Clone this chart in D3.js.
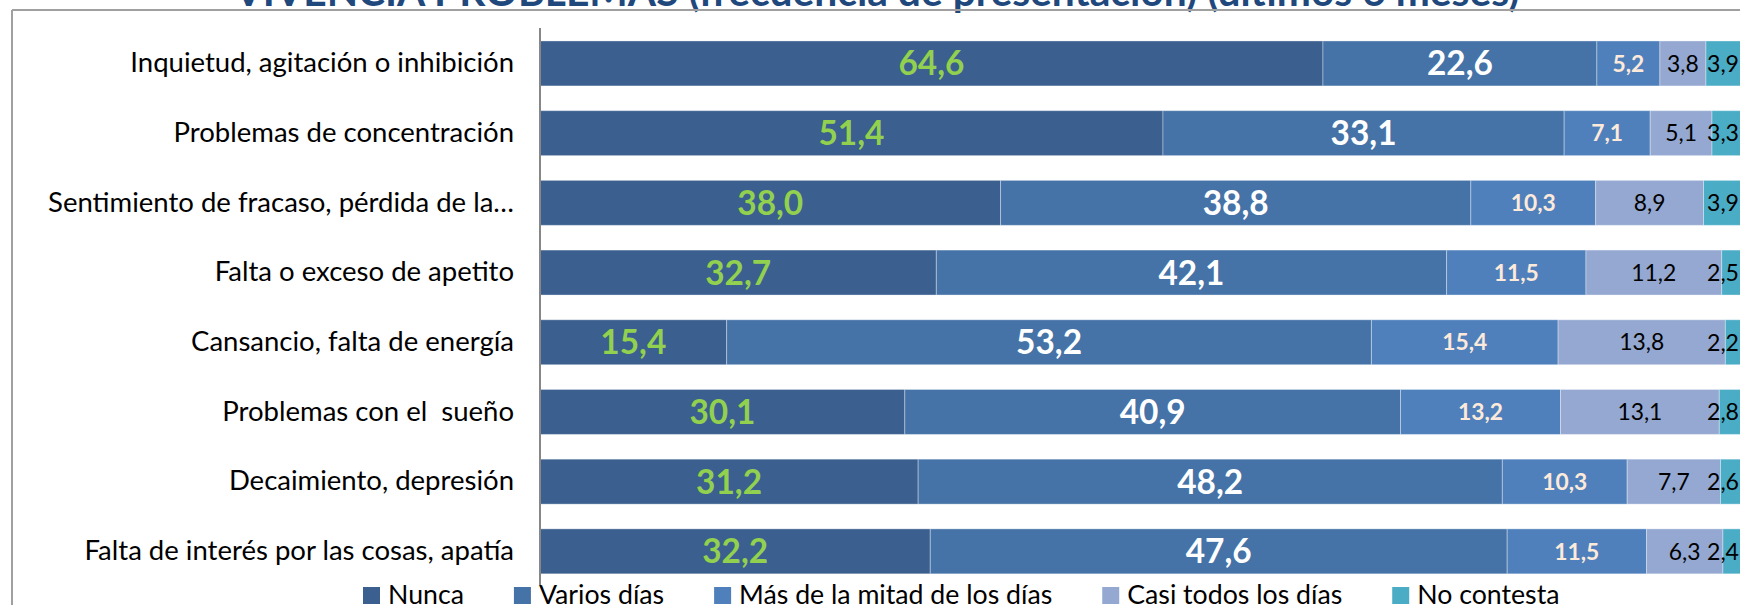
<!DOCTYPE html>
<html>
<head>
<meta charset="utf-8">
<script src="https://cdn.jsdelivr.net/npm/d3@7"></script>
<style>
  html, body { margin: 0; padding: 0; background: #ffffff; overflow: hidden; }
  svg { display: block; }
</style>
</head>
<body>
<svg id="chart" width="1740" height="605"></svg>
<script>
// ---------------- DATA ----------------
const titleText = "VIVENCIA PROBLEMAS (frecuencia de presentación) (últimos 6 meses)";
const categories = [
  "Inquietud, agitación o inhibición",
  "Problemas de concentración",
  "Sentimiento de fracaso, pérdida de la…",
  "Falta o exceso de apetito",
  "Cansancio, falta de energía",
  "Problemas con el  sueño",
  "Decaimiento, depresión",
  "Falta de interés por las cosas, apatía"
];
const seriesNames = ["Nunca", "Varios días", "Más de la mitad de los días", "Casi todos los días", "No contesta"];
const nunca      = [64.6, 51.4, 38.0, 32.7, 15.4, 30.1, 31.2, 32.2];
const varios     = [22.6, 33.1, 38.8, 42.1, 53.2, 40.9, 48.2, 47.6];
const masMitad   = [5.2, 7.1, 10.3, 11.5, 15.4, 13.2, 10.3, 11.5];
const casiTodos  = [3.8, 5.1, 8.9, 11.2, 13.8, 13.1, 7.7, 6.3];
const noContesta = [3.9, 3.3, 3.9, 2.5, 2.2, 2.8, 2.6, 2.4];
const xDomain = [0, 100];

// ---------------- STYLE ----------------
const W = 1740, H = 605;
const FONT = "Lato, 'Open Sans', sans-serif";
const colors = ["#3B5F8E", "#4573A7", "#4F80BC", "#94A8D1", "#4BACC6"];
const labelColors = ["#92D050", "#FFFFFF", "#FDEADA", "#000000", "#000000"];
const labelWeights = ["bold", "bold", "bold", "normal", "normal"];

const svg = d3.select("#chart");

// measure helper to fit font sizes to the reference widths
const meas = svg.append("text").attr("x", -9999).attr("y", -9999).style("font-family", FONT).style("white-space", "pre");
function fitSize(str, weight, target) {
  meas.style("font-weight", weight).style("font-size", "100px").text(str);
  const w = meas.node().getComputedTextLength();
  return 100 * target / w;
}
const titleSize  = fitSize(titleText, "bold", 1285);
const catSize    = fitSize(categories[0], "normal", 384);
const legendSize = fitSize(seriesNames[3], "normal", 215);
const bigSize    = fitSize("64,6", "bold", 66);
const masSize    = fitSize("10,3", "bold", 45);
const casiSize   = fitSize("11,2", "normal", 45);
const ncSize     = fitSize("3,9", "normal", 32);
const valueSizes = [bigSize, bigSize, masSize, casiSize, ncSize];
meas.remove();

const locale = d3.formatLocale({decimal: ",", thousands: ".", grouping: [3], currency: ["", "€"]});
const fmt = locale.format(".1f");

// ---------------- SCALES ----------------
const x = d3.scaleLinear().domain(xDomain).range([540, 1752]);
const y = d3.scaleBand().domain(categories).range([28.6, 586.2]).paddingInner(0.355).paddingOuter(0.1775);

// ---------------- FRAME ----------------
svg.append("text")
  .attr("x", 877).attr("y", 6)
  .attr("text-anchor", "middle")
  .style("font-family", FONT).style("font-weight", "bold")
  .style("font-size", titleSize + "px")
  .attr("fill", "#1F497D")
  .text(titleText);

svg.append("line").attr("x1", 12).attr("x2", W).attr("y1", 10).attr("y2", 10)
  .attr("stroke", "#A0A0A0").attr("stroke-width", 2);
svg.append("line").attr("x1", 12).attr("x2", 12).attr("y1", 10).attr("y2", H)
  .attr("stroke", "#A0A0A0").attr("stroke-width", 2);

// ---------------- BARS ----------------
const rows = categories.map((c, i) => ({
  cat: c,
  s0: nunca[i], s1: varios[i], s2: masMitad[i], s3: casiTodos[i], s4: noContesta[i]
}));
const keys = ["s0", "s1", "s2", "s3", "s4"];
const stacked = d3.stack().keys(keys)(rows);

const g = svg.append("g");
stacked.forEach((layer, si) => {
  g.selectAll(null).data(layer).enter().append("rect")
    .attr("x", d => x(d[0]))
    .attr("y", d => y(d.data.cat))
    .attr("width", d => x(d[1]) - x(d[0]))
    .attr("height", y.bandwidth())
    .attr("fill", colors[si])
    .attr("stroke", "rgba(255,255,255,0.35)")
    .attr("stroke-width", 1);
});

// value labels
stacked.forEach((layer, si) => {
  g.selectAll(null).data(layer).enter().append("text")
    .attr("x", d => {
      const c = (x(d[0]) + x(d[1])) / 2;
      return c;
    })
    .attr("y", d => y(d.data.cat) + y.bandwidth() / 2)
    .attr("dy", "0.36em")
    .attr("text-anchor", "middle")
    .style("font-family", FONT)
    .style("font-weight", labelWeights[si])
    .style("font-size", valueSizes[si] + "px")
    .attr("fill", labelColors[si])
    .text(d => fmt(d[1] - d[0]))
    .each(function() {
      // keep labels inside the chart's right edge, as the original does
      const w = this.getComputedTextLength();
      const cx = +this.getAttribute("x");
      if (cx + w / 2 > W - 1) this.setAttribute("x", W - 1 - w / 2);
    });
});

// ---------------- AXIS ----------------
const yAxis = d3.axisLeft(y).tickSize(0).tickPadding(26);
const ax = svg.append("g").attr("transform", "translate(540,0)").call(yAxis);
ax.select(".domain").remove();
ax.selectAll("text")
  .style("font-family", FONT).style("font-size", catSize + "px")
  .style("white-space", "pre")
  .attr("fill", "#000");
svg.append("line").attr("x1", 540).attr("x2", 540).attr("y1", 28).attr("y2", 585)
  .attr("stroke", "#878787").attr("stroke-width", 2);

// ---------------- LEGEND ----------------
const legend = svg.append("g");
let lx = 363;
seriesNames.forEach((name, i) => {
  legend.append("rect").attr("x", lx).attr("y", 587).attr("width", 17).attr("height", 17).attr("fill", colors[i]);
  const t = legend.append("text").attr("x", lx + 25).attr("y", 604)
    .style("font-family", FONT).style("font-size", legendSize + "px").attr("fill", "#000")
    .text(name);
  lx += 25 + t.node().getComputedTextLength() + 50;
});
</script>
</body>
</html>
